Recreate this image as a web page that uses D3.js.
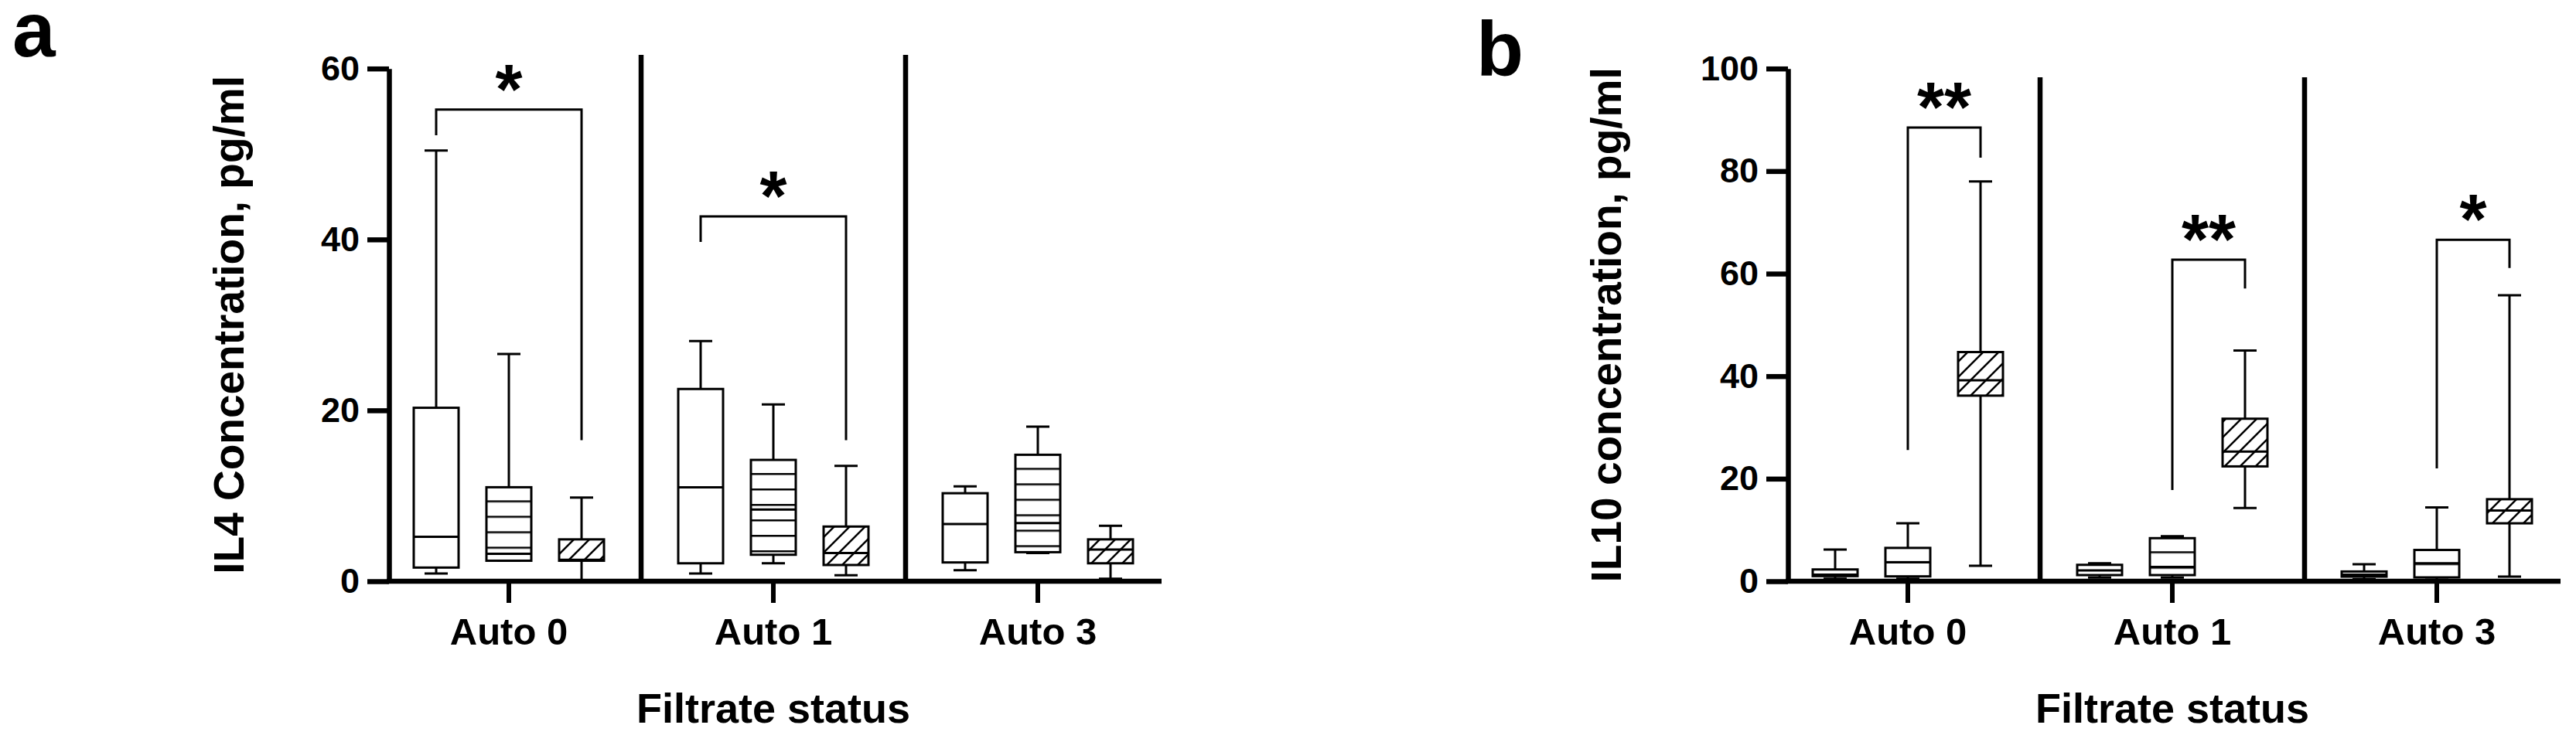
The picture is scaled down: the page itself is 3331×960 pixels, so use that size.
<!DOCTYPE html>
<html lang="en">
<head>
  <meta charset="UTF-8">
  <title>IL4 and IL10 concentration by filtrate status</title>
  <script src="https://cdn.jsdelivr.net/npm/d3@7"></script>
  <style>
    body { margin: 0; background: #fff; }
    svg text { font-family: 'Liberation Sans', Arial, sans-serif; fill: #000; }
  </style>
</head>
<body>
  <svg id="chart" width="3331" height="960"></svg>
  <script>
    const categories = ['Auto 0', 'Auto 1', 'Auto 3']
    const groups = ['plain', 'stripes', 'hatch']

    // [min, q1, median, q3, max] for each category, groups in the order above
    const il4Values = [
      [[0.9, 1.6, 5.2, 20.3, 50.4], [2.4, 2.4, 3.2, 11.0, 26.6], [0, 2.4, 2.5, 4.9, 9.8]],
      [[0.9, 2.1, 11.0, 22.5, 28.1], [2.1, 3.1, 8.4, 14.2, 20.7], [0.7, 1.9, 3.3, 6.4, 13.5]],
      [[1.3, 2.2, 6.7, 10.3, 11.1], [3.3, 3.4, 6.8, 14.8, 18.1], [0.3, 2.1, 3.7, 4.9, 6.5]]
    ]
    const il10Values = [
      [[0.5, 1.0, 1.3, 2.3, 6.2], [0.5, 0.95, 3.7, 6.5, 11.3], [3.0, 36.2, 39.2, 44.7, 78.0]],
      [[0.7, 1.2, 2.1, 3.2, 3.5], [0.7, 1.2, 2.8, 8.4, 8.8], [14.3, 22.4, 25.3, 31.7, 45.0]],
      [[0.4, 0.9, 1.3, 1.9, 3.3], [0.3, 0.75, 3.5, 6.1, 14.4], [0.9, 11.3, 13.8, 16.0, 55.8]]
    ]
    const il4Ticks = [0, 20, 40, 60]
    const il10Ticks = [0, 20, 40, 60, 80, 100]

    // category, from group, to group, bracket top, left leg end, right leg end, label
    const il4Sig = [
      ['Auto 0', 0, 2, 55.2, 52.2, 16.5, '*'],
      ['Auto 1', 0, 2, 42.7, 39.7, 16.5, '*']
    ]
    const il10Sig = [
      ['Auto 0', 1, 2, 88.5, 25.6, 82.6, '**'],
      ['Auto 1', 1, 2, 62.7, 17.8, 57.1, '**'],
      ['Auto 3', 1, 2, 66.6, 22.0, 61.1, '*']
    ]

    const svg = d3.select('#chart')
    const defs = svg.append('defs')

    const hatch = defs.append('pattern')
      .attr('id', 'hatch')
      .attr('patternUnits', 'userSpaceOnUse')
      .attr('width', 20)
      .attr('height', 20)
    hatch.append('rect').attr('width', 20).attr('height', 20).attr('fill', '#fff')
    hatch.append('path')
      .attr('d', 'M0,20 L20,0 M-5,5 L5,-5 M15,25 L25,15')
      .attr('stroke', '#000')
      .attr('stroke-width', 2.5)

    const y0 = 752
    const yTop = 88.7

    function drawPanel(p) {
      const g = svg.append('g').attr('class', 'panel-' + p.name)
      const L = p.left

      const x = d3.scaleBand().domain(categories).range([L - 16, L + 1010])
      const inner = d3.scaleBand().domain(d3.range(groups.length)).range([-141, 141])
      const y = d3.scaleLinear().domain([0, p.max]).range([y0, yTop])
      const cx = (cat, gi) => x(cat) + x.bandwidth() / 2 + inner(gi) + inner.bandwidth() / 2
      const boxW = 58

      // separators between categories
      g.selectAll('.sep')
        .data(categories.slice(1))
        .enter().append('line')
        .attr('x1', d => x(d)).attr('x2', d => x(d))
        .attr('y1', p.sepTop).attr('y2', y0)
        .attr('stroke', '#000').attr('stroke-width', 6.5)

      const boxes = []
      p.values.forEach((row, ci) => row.forEach((v, gi) => {
        boxes.push({ cat: categories[ci], gi, v, id: p.name + '-' + ci + '-' + gi })
      }))

      // horizontal stripe patterns anchored at each box top
      boxes.filter(b => groups[b.gi] === 'stripes').forEach(b => {
        const pat = defs.append('pattern')
          .attr('id', 'stripe-' + b.id)
          .attr('patternUnits', 'userSpaceOnUse')
          .attr('x', 0).attr('y', y(b.v[3]))
          .attr('width', 100).attr('height', 20)
        pat.append('rect').attr('width', 100).attr('height', 20).attr('fill', '#fff')
        pat.append('line')
          .attr('x1', 0).attr('x2', 100).attr('y1', 18.3).attr('y2', 18.3)
          .attr('stroke', '#000').attr('stroke-width', 2.5)
      })

      const fillFor = b => {
        if (groups[b.gi] === 'stripes') return 'url(#stripe-' + b.id + ')'
        if (groups[b.gi] === 'hatch') return 'url(#hatch)'
        return '#fff'
      }

      const bg = g.selectAll('.box')
        .data(boxes)
        .enter().append('g')
        .attr('class', 'box')

      bg.append('path')
        .attr('d', b => {
          const c = cx(b.cat, b.gi)
          return 'M' + c + ',' + y(b.v[4]) + 'V' + y(b.v[3]) +
            'M' + c + ',' + y(b.v[1]) + 'V' + y(b.v[0]) +
            'M' + (c - 15) + ',' + y(b.v[4]) + 'H' + (c + 15) +
            'M' + (c - 15) + ',' + y(b.v[0]) + 'H' + (c + 15)
        })
        .attr('stroke', '#000').attr('stroke-width', 3).attr('fill', 'none')

      bg.append('rect')
        .attr('x', b => cx(b.cat, b.gi) - boxW / 2)
        .attr('width', boxW)
        .attr('y', b => y(b.v[3]))
        .attr('height', b => y(b.v[1]) - y(b.v[3]))
        .attr('fill', fillFor)
        .attr('stroke', '#000').attr('stroke-width', 3)

      bg.append('line')
        .attr('x1', b => cx(b.cat, b.gi) - boxW / 2)
        .attr('x2', b => cx(b.cat, b.gi) + boxW / 2)
        .attr('y1', b => y(b.v[2])).attr('y2', b => y(b.v[2]))
        .attr('stroke', '#000').attr('stroke-width', 3)

      // significance brackets
      const sg = g.selectAll('.sig')
        .data(p.sig)
        .enter().append('g')
        .attr('class', 'sig')
      sg.append('path')
        .attr('d', d => 'M' + cx(d[0], d[1]) + ',' + y(d[4]) + 'V' + y(d[3]) +
          'H' + cx(d[0], d[2]) + 'V' + y(d[5]))
        .attr('fill', 'none').attr('stroke', '#000').attr('stroke-width', 3)
      sg.append('text')
        .attr('x', d => (cx(d[0], d[1]) + cx(d[0], d[2])) / 2)
        .attr('y', d => y(d[3]) + 5)
        .attr('text-anchor', 'middle')
        .style('font-size', '90px')
        .style('font-weight', 'bold')
        .text(d => d[6])

      // axes
      const yAxis = g.append('g')
        .attr('transform', 'translate(' + L + ',0)')
        .call(d3.axisLeft(y).tickValues(p.ticks).tickSize(28).tickPadding(10).tickSizeOuter(0))
      yAxis.selectAll('path, line').attr('stroke', '#000').attr('stroke-width', 6.5)
      yAxis.selectAll('text').style('font-size', '45px').style('font-weight', 'bold')

      g.append('line')
        .attr('x1', L - 3).attr('x2', L + 999)
        .attr('y1', y0).attr('y2', y0)
        .attr('stroke', '#000').attr('stroke-width', 6.5)

      const xAxis = g.append('g')
        .attr('transform', 'translate(0,' + y0 + ')')
        .call(d3.axisBottom(x).tickSize(28).tickPadding(19))
      xAxis.select('.domain').remove()
      xAxis.selectAll('line').attr('stroke', '#000').attr('stroke-width', 6)
      xAxis.selectAll('text').style('font-size', '49px').style('font-weight', 'bold')

      g.append('text')
        .attr('x', x(categories[1]) + x.bandwidth() / 2)
        .attr('y', 935)
        .attr('text-anchor', 'middle')
        .style('font-size', '54px').style('font-weight', 'bold')
        .text('Filtrate status')

      g.append('text')
        .attr('transform', 'translate(' + p.titleX + ',' + (y0 + yTop) / 2 + ') rotate(-90)')
        .attr('text-anchor', 'middle')
        .style('font-size', '55px').style('font-weight', 'bold')
        .text(p.title)

      g.append('text')
        .attr('x', p.letterX).attr('y', p.letterY)
        .style('font-size', '100px').style('font-weight', 'bold')
        .text(p.name)
    }

    drawPanel({
      name: 'a', left: 503, max: 60, ticks: il4Ticks, values: il4Values, sig: il4Sig,
      sepTop: 71, titleX: 315, title: 'IL4 Concentration, pg/ml', letterX: 16, letterY: 73
    })
    drawPanel({
      name: 'b', left: 2312, max: 100, ticks: il10Ticks, values: il10Values, sig: il10Sig,
      sepTop: 100, titleX: 2096, title: 'IL10 concentration, pg/ml', letterX: 1909, letterY: 98
    })
  </script>
</body>
</html>
